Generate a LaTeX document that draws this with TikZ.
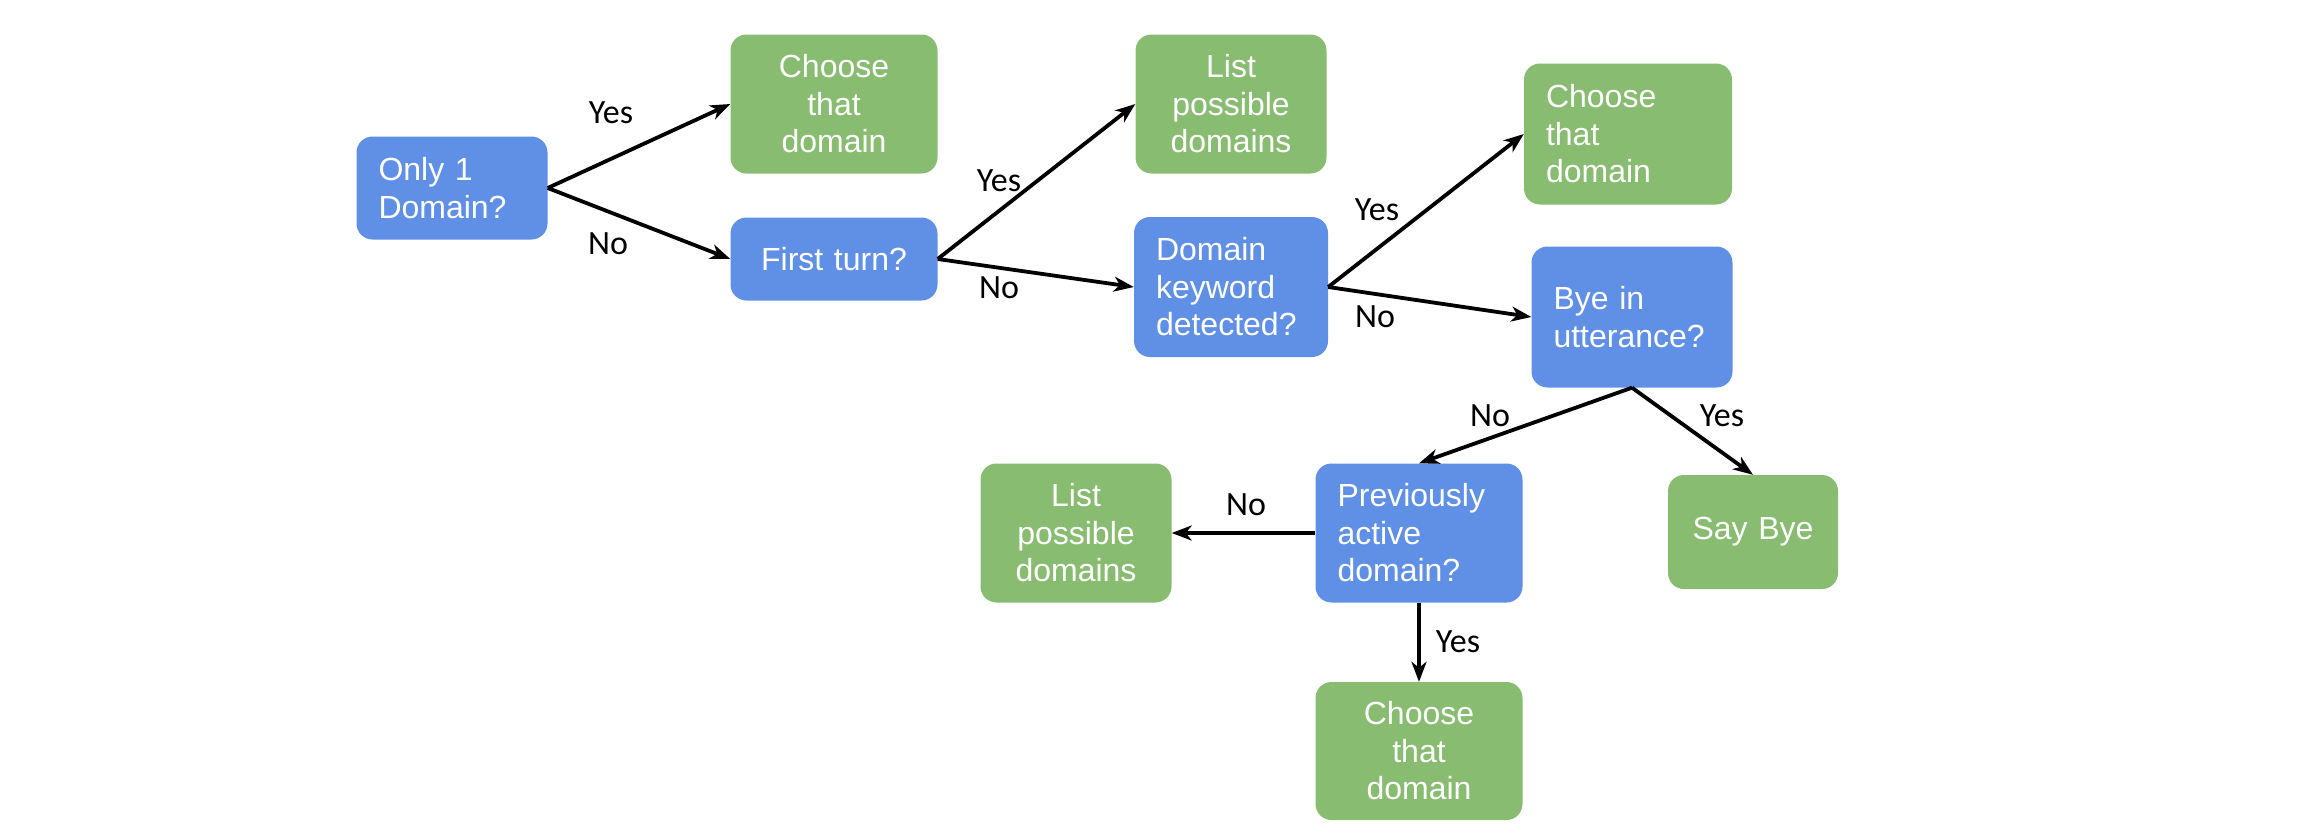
\documentclass[tikz,border=0pt]{standalone}
\usepackage{fontspec}
\setmainfont{Liberation Sans}
\newfontfamily\lblfont{Carlito}
\usetikzlibrary{arrows.meta}
\definecolor{qblue}{HTML}{6090E6}
\definecolor{agreen}{HTML}{88BC70}
\begin{document}
\begin{tikzpicture}[x=1pt,y=-1pt,
  box/.style={rounded corners=16pt, text=white, inner sep=0pt,
    font=\fontsize{32}{37.5}\selectfont},
  qbox/.style={box, fill=qblue},
  abox/.style={box, fill=agreen},
  arr/.style={-{Stealth[length=20pt,width=15pt,inset=6pt]}, line width=3.8pt, black},
  lbl/.style={font=\lblfont\fontsize{34}{38}\selectfont, text=black, inner sep=0pt}]
\useasboundingbox (0,0) rectangle (2304,838);
% decision boxes
\node[qbox, minimum width=191pt, minimum height=103pt, text width=147pt, align=left] (A) at (452,188) {Only 1\\Domain?};
\node[qbox, minimum width=207pt, minimum height=83pt, text width=187pt, align=center] (C) at (834,259) {First turn?};
\node[qbox, minimum width=194pt, minimum height=140pt, text width=150pt, align=left] (E) at (1231,287) {Domain\\keyword\\detected?};
\node[qbox, minimum width=201pt, minimum height=141pt, text width=157pt, align=left] (G) at (1632,317) {Bye in\\utterance?};
\node[qbox, minimum width=207pt, minimum height=139pt, text width=163pt, align=left] (I) at (1419,533) {Previously\\active\\domain?};
% action boxes
\node[abox, minimum width=207pt, minimum height=139pt, text width=187pt, align=center] (B) at (834,104) {Choose\\that\\domain};
\node[abox, minimum width=191pt, minimum height=139pt, text width=171pt, align=center] (D) at (1231,104) {List\\possible\\domains};
\node[abox, minimum width=208pt, minimum height=141pt, text width=164pt, align=left] (F) at (1628,134) {Choose\\that\\domain};
\node[abox, minimum width=170pt, minimum height=114pt, text width=150pt, align=center] (H) at (1753,532) {Say Bye};
\node[abox, minimum width=191pt, minimum height=139pt, text width=171pt, align=center] (J) at (1076,533) {List\\possible\\domains};
\node[abox, minimum width=207pt, minimum height=138pt, text width=187pt, align=center] (K) at (1419,751) {Choose\\that\\domain};
% connectors
\draw[arr] (A.east) -- (B.west);
\draw[arr] (A.east) -- (C.west);
\draw[arr] (C.east) -- (D.west);
\draw[arr] (C.east) -- (E.west);
\draw[arr] (E.east) -- (F.west);
\draw[arr] (E.east) -- (G.west);
\draw[arr] (G.south) -- (I.north);
\draw[arr] (G.south) -- (H.north);
\draw[arr] (I.west) -- (J.east);
\draw[arr] (I.south) -- (K.north);
% labels
\node[lbl] (l1) at (611,113) {Yes};
\node[lbl] (l2) at (608,244) {No};
\node[lbl] (l3) at (999,181) {Yes};
\node[lbl] (l4) at (999,288) {No};
\node[lbl] (l5) at (1377,210) {Yes};
\node[lbl] (l6) at (1375,317) {No};
\node[lbl] (l7) at (1490,416) {No};
\node[lbl] (l8) at (1722,416) {Yes};
\node[lbl] (l9) at (1246,505) {No};
\node[lbl] (l10) at (1458,642) {Yes};
\end{tikzpicture}
\end{document}
